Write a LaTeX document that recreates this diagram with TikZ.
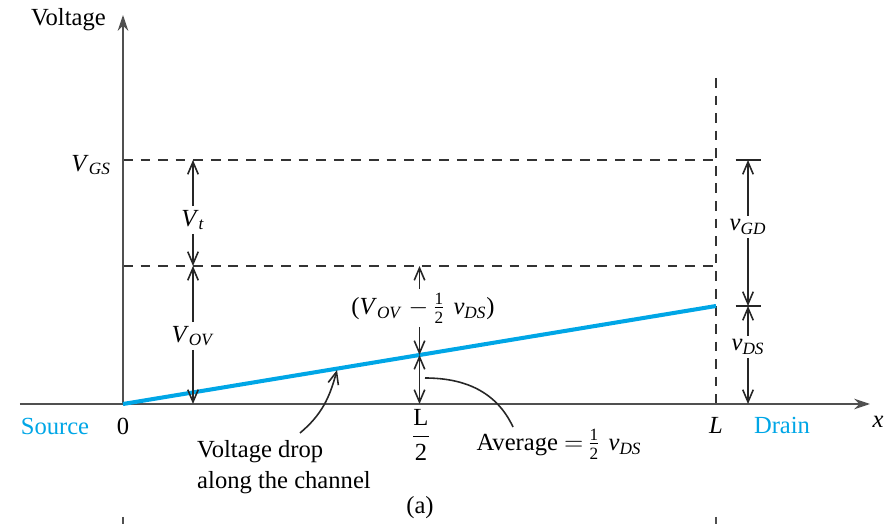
\documentclass[tikz,border=0pt]{standalone}
\usepackage{fontspec}
\setmainfont{Liberation Serif}
\usepackage{amsmath}
\usetikzlibrary{arrows.meta}
\definecolor{chanblue}{RGB}{0,166,230}
\definecolor{axisgray}{RGB}{80,80,80}
\newcommand{\vq}[2]{\textit{#1}\textsubscript{\textit{#2}}}
\newcommand{\halfq}{\,$\tfrac{\text{1}}{\text{2}}$\,\,}

\begin{document}
\begin{tikzpicture}[
  font=\fontsize{14}{18}\selectfont,
  axis/.style={draw=axisgray, line width=1.1pt, -{Stealth[length=9pt,width=6pt]}},
  guide/.style={draw=black!80, line width=0.8pt, dash pattern=on 5.5pt off 4.5pt},
  dimline/.style={draw=black!85, line width=0.9pt, -{Straight Barb[length=7pt,width=6pt]}},
  dimboth/.style={dimline, {Straight Barb[length=7pt,width=6pt]}-{Straight Barb[length=7pt,width=6pt]}},
  barline/.style={draw=black!85, line width=0.9pt},
  callout/.style={draw=black!85, line width=0.9pt},
  channel/.style={draw=chanblue, line width=2.3pt},
  lbl/.style={inner sep=2pt},
  bluelbl/.style={text=chanblue}
]
\useasboundingbox (-2.46,-2.4) rectangle (15.38,8.08);

\coordinate (O) at (0,0);
\coordinate (ytop) at (0,7.78);
\coordinate (xl) at (-2.06,0);
\coordinate (xr) at (14.94,0);
\coordinate (gs0) at (0,4.88);
\coordinate (gsL) at (11.86,4.88);
\coordinate (t0) at (0,2.76);
\coordinate (tL) at (11.86,2.76);
\coordinate (Ltop) at (11.86,6.52);
\coordinate (L0) at (11.86,0);
\coordinate (D) at (11.86,1.96);
\coordinate (M) at (5.93,0.98);
\coordinate (gdTop) at (12.5,4.88);
\coordinate (gdBot) at (12.5,1.96);
\coordinate (dsBot) at (12.5,0);
\coordinate (dropTail) at (3.54,-0.58);
\coordinate (dropTip) at (4.28,0.68);
\coordinate (avgTail) at (7.8,-0.46);
\coordinate (avgTip) at (6.04,0.52);
\coordinate (tickA) at (0,-2.26);
\coordinate (tickA2) at (0,-2.4);
\coordinate (tickB) at (11.86,-2.26);
\coordinate (tickB2) at (11.86,-2.4);

\draw[guide] (gs0) -- (gsL);
\draw[guide] (t0) -- (tL);
\draw[guide] (Ltop) -- (L0);

\draw[axis] (xl) -- (xr);
\draw[axis] (O) -- (ytop);
\draw[channel] (O) -- (D);

\node[anchor=east] (vlab) at (-0.22,7.68) {Voltage};
\node[anchor=east] (vgs) at (-0.12,4.78) {\vq{V}{GS}};
\node[bluelbl] (src) at (-1.36,-0.44) {Source};
\node (zero) at (0,-0.44) {0};
\node (half) at (5.96,-0.62) {$\dfrac{\text{L}}{\text{2}}$};
\node (ell) at (11.86,-0.42) {\textit{L}};
\node[bluelbl] (drn) at (13.18,-0.42) {Drain};
\node (xlab) at (15.1,-0.36) {\textit{x}};
\node[align=left] (drop) at (3.22,-1.26) {Voltage drop\\along the channel};
\node (avg) at (8.72,-0.8) {Average $=$\halfq\vq{v}{DS}};
\node (cap) at (5.94,-2.08) {(a)};

\node[lbl] (vt) at (1.4,3.68) {\vq{V}{t}};
\draw[dimline] (vt.north) -- (vt.north |- gs0);
\draw[dimline] (vt.south) -- (vt.south |- t0);

\node[lbl] (vov) at (1.4,1.36) {\vq{V}{OV}};
\draw[dimline] (vov.north) -- (vov.north |- t0);
\draw[dimline] (vov.south) -- (vov.south |- O);

\node[lbl] (ovh) at (6.0,1.92) {(\vq{V}{OV} $-$\halfq\vq{v}{DS})};
\draw[dimline] (M |- ovh.north) -- (M |- t0);
\draw[dimline] (M |- ovh.south) -- (M);
\draw[dimboth] (M) -- (M |- O);

\node[lbl] (vgd) at (12.5,3.54) {\vq{v}{GD}};
\draw[dimline] (vgd.north) -- (gdTop);
\draw[dimline] (vgd.south) -- (gdBot);
\node[lbl] (vds) at (12.5,1.14) {\vq{v}{DS}};
\draw[dimline] (vds.north) -- (gdBot);
\draw[dimline] (vds.south) -- (dsBot);
\draw[barline] ([xshift=-0.25cm]gdTop) -- ([xshift=0.25cm]gdTop);
\draw[barline] ([xshift=-0.25cm]gdBot) -- ([xshift=0.25cm]gdBot);

\draw[dimline] (dropTail) to[out=40,in=-105] (dropTip);
\draw[callout] (avgTail) to[out=115,in=0] (avgTip);

\draw[axis, -] (tickA) -- (tickA2);
\draw[axis, -] (tickB) -- (tickB2);
\end{tikzpicture}
\end{document}
